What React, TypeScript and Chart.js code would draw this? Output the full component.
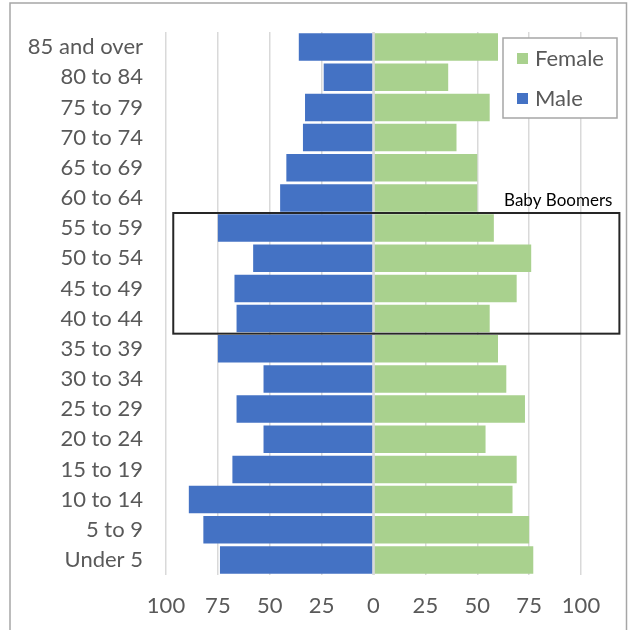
import React, { useEffect, useRef } from "react";
import { Chart, registerables } from "chart.js";

Chart.register(...registerables);

const categories = [
  "85 and over", "80 to 84", "75 to 79", "70 to 74", "65 to 69", "60 to 64",
  "55 to 59", "50 to 54", "45 to 49", "40 to 44", "35 to 39", "30 to 34",
  "25 to 29", "20 to 24", "15 to 19", "10 to 14", "5 to 9", "Under 5",
];
const maleValues = [36, 24, 33, 34, 42, 45, 75, 58, 67, 66, 75, 53, 66, 53, 68, 89, 82, 74];
const femaleValues = [60, 36, 56, 40, 50, 50, 58, 76, 69, 56, 60, 64, 73, 54, 69, 67, 75, 77];
const xMin = -100;
const xMax = 100;
const xStep = 25;
const boomerFirst = "55 to 59";
const boomerLast = "40 to 44";
const boomerLabel = "Baby Boomers";
const boomerXFrom = -96.5;
const boomerXTo = 118.5;

const FONT = "Lato, 'Open Sans', sans-serif";
const MALE_COLOR = "#4472C4";
const FEMALE_COLOR = "#A9D18E";
const TEXT_COLOR = "#595959";
const GRID_COLOR = "#D9D9D9";

const decorPlugin = {
  id: "decor",
  beforeDraw(chart: any) {
    const ctx = chart.ctx;
    ctx.save();
    ctx.fillStyle = "#fff";
    ctx.fillRect(0, 0, chart.width, chart.height);
    ctx.strokeStyle = "#A6A6A6";
    ctx.lineWidth = 1.5;
    ctx.strokeRect(10, 3, chart.width - 11.5, chart.height + 20);
    ctx.restore();
  },
  afterDatasetsDraw(chart: any) {
    const ctx = chart.ctx;
    const xs = chart.scales.x;
    const area = chart.chartArea;
    const x0 = xs.getPixelForValue(0);
    ctx.save();
    ctx.strokeStyle = GRID_COLOR;
    ctx.lineWidth = 2.5;
    ctx.beginPath();
    ctx.moveTo(x0, area.top);
    ctx.lineTo(x0, area.bottom);
    ctx.stroke();
    ctx.restore();
  },
  afterDraw(chart: any) {
    const ctx = chart.ctx;
    const xs = chart.scales.x;
    const ys = chart.scales.y;
    const area = chart.chartArea;
    ctx.save();
    // Baby Boomers box
    const i0 = categories.indexOf(boomerFirst);
    const i1 = categories.indexOf(boomerLast);
    const step = ys.getPixelForValue(1) - ys.getPixelForValue(0);
    const top = ys.getPixelForValue(i0) - step / 2;
    const bottom = ys.getPixelForValue(i1) + step / 2;
    const left = xs.getPixelForValue(boomerXFrom);
    const right = xs.getPixelForValue(boomerXTo);
    ctx.strokeStyle = "#262626";
    ctx.lineWidth = 2;
    ctx.strokeRect(left, top, right - left, bottom - top);
    ctx.fillStyle = "#000";
    ctx.font = `17px ${FONT}`;
    ctx.textAlign = "right";
    ctx.textBaseline = "alphabetic";
    ctx.fillText(boomerLabel, right - 7, top - 7);

    // Legend (Female first, then Male)
    const lx = area.right - 78;
    const ly = area.top + 6;
    const lw = 114;
    const lh = 80;
    ctx.fillStyle = "#fff";
    ctx.fillRect(lx, ly, lw, lh);
    ctx.strokeStyle = "#A6A6A6";
    ctx.lineWidth = 1.5;
    ctx.strokeRect(lx, ly, lw, lh);
    const items = chart.data.datasets.slice().reverse();
    items.forEach((ds: any, k: number) => {
      const cy = ly + 20 + k * 40;
      ctx.fillStyle = ds.backgroundColor;
      ctx.fillRect(lx + 14, cy - 5, 11, 11);
      ctx.fillStyle = TEXT_COLOR;
      ctx.font = `22px ${FONT}`;
      ctx.textAlign = "left";
      ctx.textBaseline = "middle";
      ctx.fillText(ds.label, lx + 32, cy + 1);
    });
    ctx.restore();
  },
};

export default function App() {
  const ref = useRef<HTMLCanvasElement | null>(null);
  useEffect(() => {
    if (!ref.current) return;
    const chart = new Chart(ref.current, {
      type: "bar",
      data: {
        labels: categories,
        datasets: [
          {
            label: "Male",
            data: maleValues.map((v) => -v),
            backgroundColor: MALE_COLOR,
            barPercentage: 0.91,
            categoryPercentage: 1,
          },
          {
            label: "Female",
            data: femaleValues,
            backgroundColor: FEMALE_COLOR,
            barPercentage: 0.91,
            categoryPercentage: 1,
          },
        ],
      },
      options: {
        indexAxis: "y",
        animation: false,
        responsive: false,
        maintainAspectRatio: false,
        layout: { padding: { top: 32, right: 47, left: 0, bottom: 0 } },
        plugins: { legend: { display: false }, tooltip: { enabled: false } },
        scales: {
          x: {
            stacked: true,
            min: xMin,
            max: xMax,
            ticks: {
              stepSize: xStep,
              padding: 18,
              color: TEXT_COLOR,
              font: { family: FONT, size: 22 },
              callback: (v: any) => String(Math.abs(Number(v))),
            },
            grid: { color: GRID_COLOR, lineWidth: 1.5, drawTicks: false },
            border: { display: false },
            afterFit: (s: any) => {
              s.height = 55;
              s.paddingLeft = 0;
              s.paddingRight = 0;
            },
          },
          y: {
            stacked: true,
            ticks: {
              padding: 23,
              color: TEXT_COLOR,
              font: { family: FONT, size: 22 },
              autoSkip: false,
            },
            grid: { display: false, drawTicks: false },
            border: { display: false },
            afterFit: (s: any) => {
              s.width = 166;
              s.paddingTop = 0;
              s.paddingBottom = 0;
            },
          },
        },
      },
      plugins: [decorPlugin],
    } as any);
    return () => chart.destroy();
  }, []);
  return (
    <div style={{ position: "absolute", left: 0, top: 0, width: 628, height: 630 }}>
      <canvas ref={ref} width={628} height={630} />
    </div>
  );
}
